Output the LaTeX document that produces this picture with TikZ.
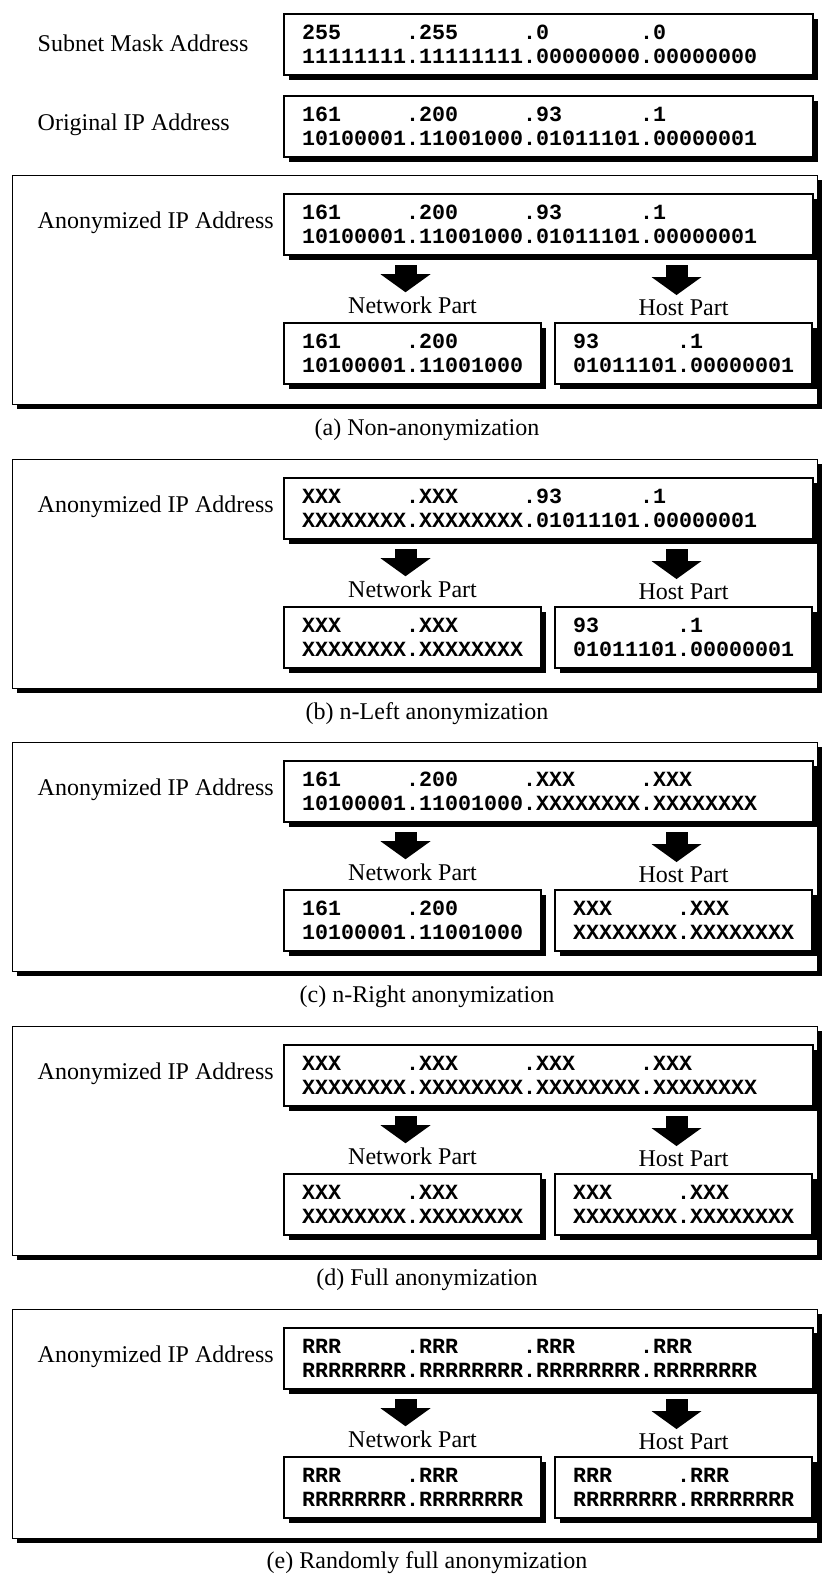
\documentclass[tikz,border=0pt]{standalone}
\usepackage{fontspec}
\setmainfont{Liberation Serif}
\setmonofont{Liberation Mono}
\usetikzlibrary{positioning,shadows,arrows.meta,calc}
\frenchspacing

\begin{document}
\begin{tikzpicture}[x=0.75pt, y=-0.75pt,
  blackshadow/.style={drop shadow={shadow xshift=3.5pt, shadow yshift=-3.5pt, fill=black, opacity=1}},
  panel/.style={draw, line width=1.1pt, fill=white, blackshadow, anchor=north west,
    minimum width=603.75pt, minimum height=171.75pt},
  addr/.style={draw, line width=1.5pt, fill=white, blackshadow, anchor=north west,
    inner xsep=13.5pt, text width=369.75pt, minimum height=45.75pt, align=left,
    font=\ttfamily\bfseries\fontsize{16.25pt}{18pt}\selectfont},
  half/.style={addr, text width=165.75pt},
  lbl/.style={anchor=west, font=\fontsize{18pt}{20pt}\selectfont},
  partlbl/.style={font=\fontsize{18pt}{20pt}\selectfont},
  subcap/.style={font=\fontsize{18pt}{20pt}\selectfont},
  fat/.style={line width=16.5pt, -{Triangle[length=13.5pt, width=37.5pt, line width=0pt]},
    shorten <=6.75pt}]

  \useasboundingbox (0,0) rectangle (826,1575);

  % mask and original address
  \node[addr] (mask) at (283,13) {255\phantom{00000}.255\phantom{00000}.0\phantom{0000000}.0\\11111111.11111111.00000000.00000000};
  \node[lbl] (labmask) at (33,43) {Subnet Mask Address};
  \node[addr] (orig) at (283,95) {161\phantom{00000}.200\phantom{00000}.93\phantom{000000}.1\\10100001.11001000.01011101.00000001};
  \node[lbl] (laborig) at (33,125) {Original IP Address};

  % (a)
  \node[panel] (panA) at (12,175) {};
  \node[addr] (anonA) at (283,193) {161\phantom{00000}.200\phantom{00000}.93\phantom{000000}.1\\10100001.11001000.01011101.00000001};
  \node[lbl] (labA) at (33,223) {Anonymized IP Address};
  \node[half] (netA) at (283,322) {161\phantom{00000}.200\\10100001.11001000};
  \node[half, right=9pt of netA] (hostA) {93\phantom{000000}.1\\01011101.00000001};
  \node[partlbl, above=2.6pt of netA] (netlA) {Network Part};
  \node[partlbl, above=1.2pt of hostA] (hostlA) {Host Part};
  \draw[fat] ($(anonA.south -| netA)+(-7,0)$) -- ($(netlA.north -| netA)+(-7,0)$);
  \draw[fat] ($(anonA.south -| hostA)+(-7,0)$) -- ($(hostlA.north -| hostA)+(-7,0)$);
  \node[subcap] (capA) at (427,430) {(a) Non-anonymization};

  % (b)
  \node[panel] (panB) at (12,459) {};
  \node[addr] (anonB) at (283,477) {XXX\phantom{00000}.XXX\phantom{00000}.93\phantom{000000}.1\\XXXXXXXX.XXXXXXXX.01011101.00000001};
  \node[lbl] (labB) at (33,507) {Anonymized IP Address};
  \node[half] (netB) at (283,606) {XXX\phantom{00000}.XXX\\XXXXXXXX.XXXXXXXX};
  \node[half, right=9pt of netB] (hostB) {93\phantom{000000}.1\\01011101.00000001};
  \node[partlbl, above=2.6pt of netB] (netlB) {Network Part};
  \node[partlbl, above=1.2pt of hostB] (hostlB) {Host Part};
  \draw[fat] ($(anonB.south -| netB)+(-7,0)$) -- ($(netlB.north -| netB)+(-7,0)$);
  \draw[fat] ($(anonB.south -| hostB)+(-7,0)$) -- ($(hostlB.north -| hostB)+(-7,0)$);
  \node[subcap] (capB) at (427,714) {(b) n-Left anonymization};

  % (c)
  \node[panel] (panC) at (12,742) {};
  \node[addr] (anonC) at (283,760) {161\phantom{00000}.200\phantom{00000}.XXX\phantom{00000}.XXX\\10100001.11001000.XXXXXXXX.XXXXXXXX};
  \node[lbl] (labC) at (33,790) {Anonymized IP Address};
  \node[half] (netC) at (283,889) {161\phantom{00000}.200\\10100001.11001000};
  \node[half, right=9pt of netC] (hostC) {XXX\phantom{00000}.XXX\\XXXXXXXX.XXXXXXXX};
  \node[partlbl, above=2.6pt of netC] (netlC) {Network Part};
  \node[partlbl, above=1.2pt of hostC] (hostlC) {Host Part};
  \draw[fat] ($(anonC.south -| netC)+(-7,0)$) -- ($(netlC.north -| netC)+(-7,0)$);
  \draw[fat] ($(anonC.south -| hostC)+(-7,0)$) -- ($(hostlC.north -| hostC)+(-7,0)$);
  \node[subcap] (capC) at (427,997) {(c) n-Right anonymization};

  % (d)
  \node[panel] (panD) at (12,1026) {};
  \node[addr] (anonD) at (283,1044) {XXX\phantom{00000}.XXX\phantom{00000}.XXX\phantom{00000}.XXX\\XXXXXXXX.XXXXXXXX.XXXXXXXX.XXXXXXXX};
  \node[lbl] (labD) at (33,1074) {Anonymized IP Address};
  \node[half] (netD) at (283,1173) {XXX\phantom{00000}.XXX\\XXXXXXXX.XXXXXXXX};
  \node[half, right=9pt of netD] (hostD) {XXX\phantom{00000}.XXX\\XXXXXXXX.XXXXXXXX};
  \node[partlbl, above=2.6pt of netD] (netlD) {Network Part};
  \node[partlbl, above=1.2pt of hostD] (hostlD) {Host Part};
  \draw[fat] ($(anonD.south -| netD)+(-7,0)$) -- ($(netlD.north -| netD)+(-7,0)$);
  \draw[fat] ($(anonD.south -| hostD)+(-7,0)$) -- ($(hostlD.north -| hostD)+(-7,0)$);
  \node[subcap] (capD) at (427,1280) {(d) Full anonymization};

  % (e)
  \node[panel] (panE) at (12,1309) {};
  \node[addr] (anonE) at (283,1327) {RRR\phantom{00000}.RRR\phantom{00000}.RRR\phantom{00000}.RRR\\RRRRRRRR.RRRRRRRR.RRRRRRRR.RRRRRRRR};
  \node[lbl] (labE) at (33,1357) {Anonymized IP Address};
  \node[half] (netE) at (283,1456) {RRR\phantom{00000}.RRR\\RRRRRRRR.RRRRRRRR};
  \node[half, right=9pt of netE] (hostE) {RRR\phantom{00000}.RRR\\RRRRRRRR.RRRRRRRR};
  \node[partlbl, above=2.6pt of netE] (netlE) {Network Part};
  \node[partlbl, above=1.2pt of hostE] (hostlE) {Host Part};
  \draw[fat] ($(anonE.south -| netE)+(-7,0)$) -- ($(netlE.north -| netE)+(-7,0)$);
  \draw[fat] ($(anonE.south -| hostE)+(-7,0)$) -- ($(hostlE.north -| hostE)+(-7,0)$);
  \node[subcap] (capE) at (427,1563) {(e) Randomly full anonymization};
\end{tikzpicture}
\end{document}
